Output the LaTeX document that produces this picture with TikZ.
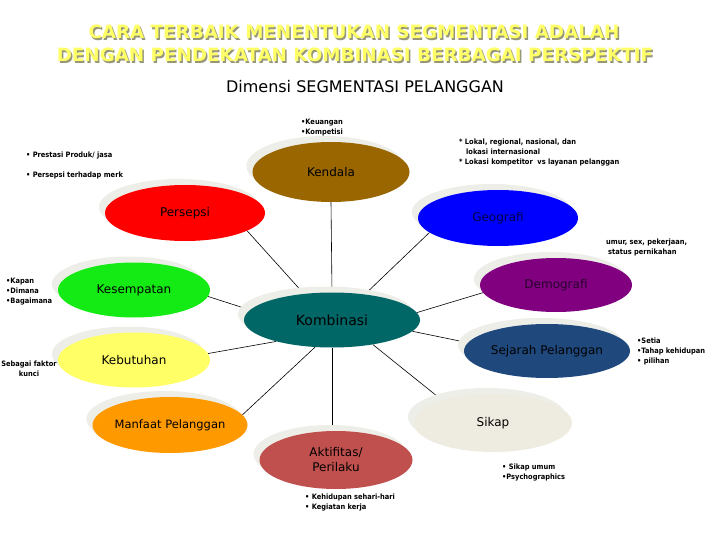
\documentclass[tikz,border=0pt]{standalone}
\usepackage{fontspec}
\setmainfont{DejaVu Sans}
\newfontfamily\notefont{DejaVu Sans Condensed}
\usetikzlibrary{shapes.geometric,shadows,backgrounds}

\definecolor{titleclr}{RGB}{255,255,102}
\definecolor{titleshade}{RGB}{150,150,120}
\definecolor{shadowclr}{RGB}{238,238,232}
\definecolor{kendalaclr}{RGB}{153,102,0}
\definecolor{persepsiclr}{RGB}{255,0,0}
\definecolor{geograficlr}{RGB}{0,0,255}
\definecolor{geotext}{RGB}{0,0,70}
\definecolor{kesempatanclr}{RGB}{20,235,20}
\definecolor{demograficlr}{RGB}{128,0,128}
\definecolor{demotext}{RGB}{40,0,45}
\definecolor{kombinasiclr}{RGB}{0,102,102}
\definecolor{kebutuhanclr}{RGB}{255,255,102}
\definecolor{sejarahclr}{RGB}{31,73,125}
\definecolor{manfaatclr}{RGB}{255,153,0}
\definecolor{aktifclr}{RGB}{192,80,77}
\definecolor{sikapclr}{RGB}{238,236,225}

\begin{document}
\begin{tikzpicture}[%
    x=1pt, y=-1pt,              % pixel-like units, y runs downwards
    every node/.style={inner sep=0pt},
    ]
% -------------------------------------------------
% Styles for the bubbles, the notes and the spokes
\tikzset{
  base/.style={ellipse, minimum width=152pt, minimum height=55pt,
    inner xsep=-20pt, align=center, font=\fontsize{12}{15}\selectfont,
    general shadow={shadow xshift=-6pt, shadow yshift=6pt, fill=shadowclr}},
  bubble/.style={base},
  note/.style={anchor=west, align=left, font=\notefont\fontsize{7.4}{10}\selectfont\bfseries},
  link/.style={draw, line width=0.6pt},
  ttl/.style={font=\fontsize{18.3}{20}\selectfont\bfseries}
}
\useasboundingbox (0,0) rectangle (720,540);
% -------------------------------------------------
% Headings
\node [ttl, text=titleshade] (t1s) at (355.5,33.5) {CARA TERBAIK MENENTUKAN SEGMENTASI ADALAH};
\node [ttl, text=titleclr] (t1) at (354,32) {CARA TERBAIK MENENTUKAN SEGMENTASI ADALAH};
\node [ttl, text=titleshade] (t2s) at (356.5,56.5) {DENGAN PENDEKATAN KOMBINASI BERBAGAI PERSPEKTIF};
\node [ttl, text=titleclr] (t2) at (355,55) {DENGAN PENDEKATAN KOMBINASI BERBAGAI PERSPEKTIF};
\node [font=\fontsize{16}{18}\selectfont] (dimensi) at (365,87) {Dimensi SEGMENTASI PELANGGAN};

% -------------------------------------------------
% The bubbles
\node [bubble, fill=kendalaclr, minimum width=157pt, minimum height=60pt] (kendala) at (331,172) {Kendala};
\node [bubble, fill=persepsiclr, minimum width=160pt, minimum height=56pt] (persepsi) at (185,213) {Persepsi};
\node [bubble, fill=geograficlr, text=geotext, minimum width=160pt, minimum height=56pt] (geografi) at (498,218) {Geografi};
\node [bubble, fill=kesempatanclr] (kesempatan) at (134,290) {Kesempatan};
\node [bubble, fill=demograficlr, text=demotext, minimum height=54pt] (demografi) at (556,285) {Demografi};
\node [bubble, fill=kombinasiclr, minimum width=176pt, font=\fontsize{14}{16}\selectfont] (komb) at (332,320) {Kombinasi};
\node [bubble, fill=kebutuhanclr] (kebutuhan) at (134,360) {Kebutuhan};
\node [bubble, fill=sejarahclr, minimum width=166pt, minimum height=54pt] (sejarah) at (547,351) {Sejarah Pelanggan};
\node [bubble, fill=manfaatclr, minimum width=155pt, minimum height=56pt, font=\fontsize{11.5}{14}\selectfont] (manfaat) at (170,425) {Manfaat Pelanggan};
\node [bubble, fill=aktifclr, minimum width=153pt, minimum height=58pt] (aktif) at (336,460) {Aktifitas/\\Perilaku};
\node [bubble, fill=sikapclr, minimum width=158pt, minimum height=58pt] (sikap) at (493,423) {Sikap};

% -------------------------------------------------
% Notes beside the bubbles
\node [note] (keuangan) at (301,128) {•Keuangan\\•Kompetisi};
\node [note] (prestasi) at (26,155) {• Prestasi Produk/ jasa};
\node [note] (merk) at (26,175) {• Persepsi terhadap merk};
\node [note] (lokasi) at (459,152) {* Lokal, regional, nasional, dan\\\hspace*{7pt}lokasi internasional\\* Lokasi kompetitor \ vs layanan pelanggan};
\node [note] (umur) at (606,247) {umur, sex, pekerjaan,\\\hspace*{2pt}status pernikahan};
\node [note] (kapan) at (6,292) {•Kapan\\•Dimana\\•Bagaimana};
\node [note, anchor=center, align=center] (faktor) at (29,369) {Sebagai faktor\\kunci};
\node [note] (setia) at (637,351) {•Setia\\•Tahap kehidupan\\• pilihan};
\node [note] (sikapumum) at (502,472) {• Sikap umum\\•Psychographics};
\node [note] (kehidupan) at (305,502) {• Kehidupan sehari-hari\\• Kegiatan kerja};

% -------------------------------------------------
% Spokes, kept behind the bubbles
\begin{scope}[on background layer]
  \fill [white] (0,0) rectangle (720,540);
  \draw [link] (komb.north) -- (kendala.south);
  \draw [link] (komb.137) -- (persepsi.-16);
  \draw [link] (komb.38) -- (geografi.-168);
  \draw [link] (komb.173) -- (kesempatan.-5);
  \draw [link] (komb.5) -- (demografi.-174);
  \draw [link] (komb.-159) -- (kebutuhan.5);
  \draw [link] (komb.-8) -- (sejarah.174);
  \draw [link] (komb.-122) -- (manfaat.8);
  \draw [link] (komb.south) -- (komb.south |- aktif.north);
  \draw [link] (komb.-31) -- (sikap.156);
\end{scope}
% -------------------------------------------------
\end{tikzpicture}
\end{document}
